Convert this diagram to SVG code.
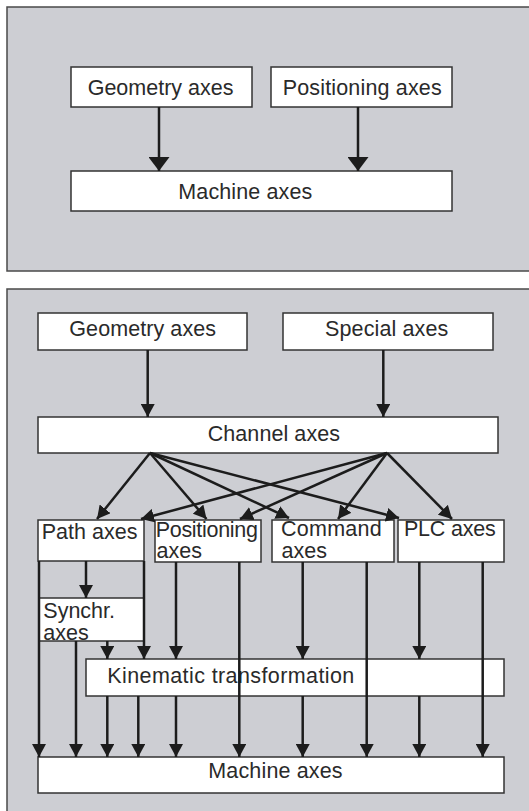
<svg xmlns="http://www.w3.org/2000/svg" width="529" height="811" viewBox="0 0 529 811">
<style>
.panel{fill:#cdced3;stroke:#4a4a4a;stroke-width:1.5}
.box{fill:#ffffff;stroke:#333333;stroke-width:1.5}
.t{font-family:"Liberation Sans",Arial,sans-serif;font-size:21.5px;fill:#2a2a2a}
.c{stroke:#1c1c1c;stroke-width:2.5;fill:none}
.a{marker-end:url(#ah)}
.ab{marker-end:url(#ahb)}
</style>
<defs>
<marker id="ah" markerUnits="userSpaceOnUse" viewBox="0 0 13 14" refX="13" refY="7" markerWidth="13" markerHeight="14" orient="auto">
<path d="M0,0 L13,7 L0,14 z" fill="#1c1c1c"/>
</marker>
<marker id="ahb" markerUnits="userSpaceOnUse" viewBox="0 0 14 21" refX="14" refY="10.5" markerWidth="14" markerHeight="21" orient="auto">
<path d="M0,0 L14,10.5 L0,21 z" fill="#1c1c1c"/>
</marker>
</defs>

<rect class="panel" x="7" y="7" width="530" height="264"/>
<rect class="panel" x="7" y="289" width="530" height="530"/>

<g id="top-geometry"><rect class="box" x="71" y="67" width="181" height="40"/><text class="t" x="87.7" y="95" textLength="145.7">Geometry axes</text></g>
<g id="top-positioning"><rect class="box" x="271" y="67" width="181" height="40"/><text class="t" x="282.7" y="95" textLength="159">Positioning axes</text></g>
<g id="top-machine"><rect class="box" x="71" y="171" width="381" height="40"/><text class="t" x="178.3" y="199" textLength="134">Machine axes</text></g>

<g id="geometry"><rect class="box" x="38" y="313" width="209" height="37"/><text class="t" x="69.3" y="336" textLength="146.7">Geometry axes</text></g>
<g id="special"><rect class="box" x="283" y="313" width="210" height="37"/><text class="t" x="325" y="336" textLength="123.3">Special axes</text></g>
<g id="channel"><rect class="box" x="38" y="417" width="460" height="36"/><text class="t" x="207.7" y="440.7" textLength="132.3">Channel axes</text></g>
<g id="path"><rect class="box" x="38" y="520" width="106" height="41"/><text class="t" x="41.7" y="539" textLength="95.7">Path axes</text></g>
<g id="positioning"><rect class="box" x="155" y="520" width="106" height="42"/><text class="t" x="155.7" y="536.7" textLength="102.3">Positioning</text><text class="t" x="156.5" y="557.5">axes</text></g>
<g id="command"><rect class="box" x="272" y="520" width="122" height="42"/><text class="t" x="281" y="535.5" textLength="100.7">Command</text><text class="t" x="281.5" y="558">axes</text></g>
<g id="plc"><rect class="box" x="398" y="520" width="106" height="42"/><text class="t" x="404" y="535.7" textLength="91.7">PLC axes</text></g>
<g id="synchr"><rect class="box" x="39" y="598" width="105" height="43"/><text class="t" x="43.3" y="617.7" textLength="71.7">Synchr.</text><text class="t" x="43.3" y="640">axes</text></g>
<g id="kinematic"><rect class="box" x="86" y="659" width="418" height="37"/><text class="t" x="107.3" y="683.3" textLength="247">Kinematic transformation</text></g>
<g id="machine"><rect class="box" x="38" y="757" width="466" height="36"/><text class="t" x="208.3" y="777.7" textLength="134.3">Machine axes</text></g>

<g id="connectors">
<line class="c ab" x1="159" y1="107" x2="159" y2="171"/>
<line class="c ab" x1="358" y1="107" x2="358" y2="171"/>

<line class="c a" x1="147.7" y1="350" x2="147.7" y2="417"/>
<line class="c a" x1="383.3" y1="350" x2="383.3" y2="417"/>

<line class="c a" x1="150" y1="453" x2="97" y2="519"/>
<line class="c a" x1="150" y1="453" x2="206.5" y2="519"/>
<line class="c a" x1="150" y1="453" x2="289" y2="518"/>
<line class="c a" x1="150" y1="453" x2="399" y2="518"/>
<line class="c a" x1="387" y1="453" x2="141" y2="519"/>
<line class="c a" x1="387" y1="453" x2="240" y2="519"/>
<line class="c a" x1="387" y1="453" x2="338" y2="519"/>
<line class="c a" x1="387" y1="453" x2="452" y2="519"/>

<line class="c a" x1="39" y1="561" x2="39" y2="757"/>
<line class="c a" x1="86" y1="561" x2="86" y2="598"/>
<line class="c a" x1="144" y1="561" x2="144" y2="659"/>
<line class="c a" x1="76" y1="641" x2="76" y2="757"/>
<line class="c a" x1="107.3" y1="641" x2="107.3" y2="659"/>
<line class="c a" x1="176" y1="562" x2="176" y2="659"/>
<line class="c a" x1="239.3" y1="562" x2="239.3" y2="757"/>
<line class="c a" x1="302.7" y1="562" x2="302.7" y2="659"/>
<line class="c a" x1="366.7" y1="562" x2="366.7" y2="757"/>
<line class="c a" x1="419.3" y1="562" x2="419.3" y2="659"/>
<line class="c a" x1="482.7" y1="562" x2="482.7" y2="757"/>

<line class="c a" x1="107.3" y1="696" x2="107.3" y2="757"/>
<line class="c a" x1="138.3" y1="696" x2="138.3" y2="757"/>
<line class="c a" x1="176" y1="696" x2="176" y2="757"/>
<line class="c a" x1="302.7" y1="696" x2="302.7" y2="757"/>
<line class="c a" x1="419.3" y1="696" x2="419.3" y2="757"/>
</g>
</svg>
